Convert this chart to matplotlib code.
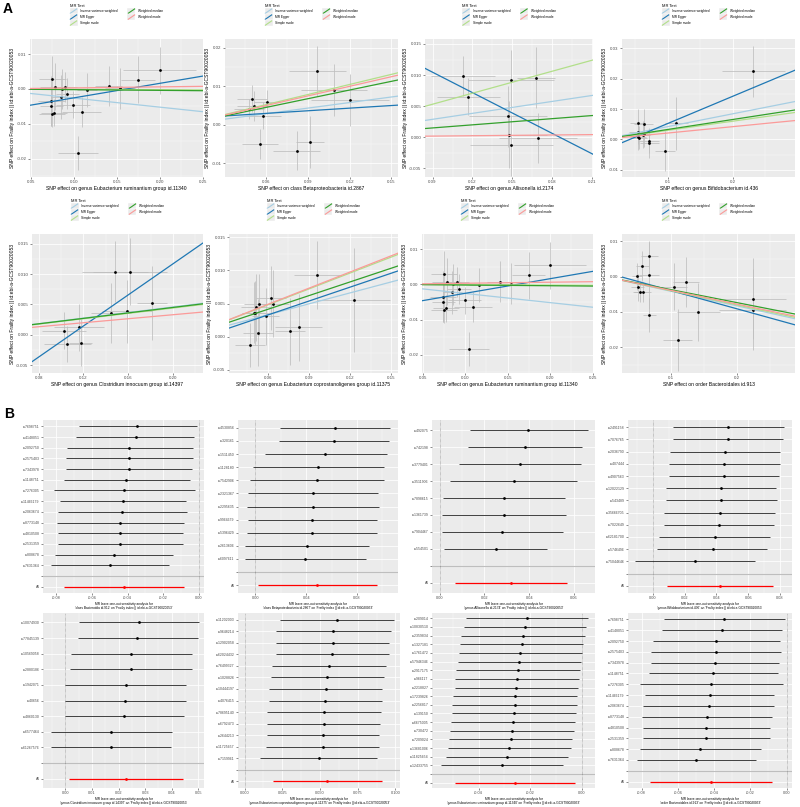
import numpy as np
import matplotlib
matplotlib.use('Agg')
import matplotlib.pyplot as plt
from matplotlib.ticker import MultipleLocator, FuncFormatter
from matplotlib.lines import Line2D
from matplotlib.patches import Rectangle
from matplotlib.legend_handler import HandlerBase

plt.rcParams['font.family'] = ['Liberation Sans', 'DejaVu Sans']
plt.rcParams['axes.unicode_minus'] = False

# ---------------- data ----------------
METHODS = ["Inverse variance weighted", "MR Egger", "Simple mode", "Weighted median", "Weighted mode"]
MCOLORS = ["#a6cee3", "#1f78b4", "#b2df8a", "#33a02c", "#fb9a99"]
YLAB = "SNP effect on Frailty index || id:ebi-a-GCST90020053"

# Scatter: genus Eubacterium ruminantium group id.11340
er_bx = [0.0752, 0.0779, 0.0740, 0.0740, 0.0748, 0.0771, 0.0849, 0.0860, 0.0903, 0.0926, 0.0992, 0.1090, 0.1047, 0.1159, 0.1407, 0.1543, 0.1748, 0.2000]
er_by = [0.0028, 0.0007, -0.0035, -0.0049, -0.0072, -0.0068, -0.0023, 0.0000, 0.0006, -0.0013, -0.0045, -0.0065, -0.0184, -0.0003, 0.0008, 0.0002, 0.0026, 0.0054]
er_sx = [0.0155, 0.0174, 0.0155, 0.0136, 0.0155, 0.0155, 0.0116, 0.0136, 0.0136, 0.0136, 0.0194, 0.0225, 0.0233, 0.0116, 0.0155, 0.0174, 0.0194, 0.0426]
er_sy = [0.0067, 0.0067, 0.0072, 0.0058, 0.0038, 0.0038, 0.0062, 0.0058, 0.0043, 0.0043, 0.0038, 0.0043, 0.0048, 0.0048, 0.0058, 0.0058, 0.0067, 0.0067]
er_int = [0, -0.0067, 0, 0, 0]
er_slope = [-0.026, 0.0415, -0.001, -0.002, 0.003]

# Scatter: class Betaproteobacteria id.2867
bp_bx = [0.0497, 0.0514, 0.0478, 0.0607, 0.0576, 0.0557, 0.0968, 0.0820, 0.0915, 0.1089, 0.1206]
bp_by = [0.0067, 0.0048, 0.0041, 0.0059, 0.0024, -0.0050, 0.0139, -0.0067, -0.0044, 0.0090, 0.0064]
bp_sx = [0.0108, 0.0120, 0.0108, 0.0096, 0.0131, 0.0131, 0.0203, 0.0167, 0.0100, 0.0239, 0.0280]
bp_sy = [0.0035, 0.0039, 0.0026, 0.0030, 0.0035, 0.0039, 0.0065, 0.0050, 0.0068, 0.0068, 0.0068]
bp_int = [0, 0.0016, 0, 0, 0]
bp_slope = [0.048, 0.0226, 0.087, 0.075, 0.083]

# Scatter: genus Allisonella id.2174
al_bx = [0.1130, 0.1168, 0.1488, 0.1680, 0.1468, 0.1473, 0.1493, 0.1693]
al_by = [0.0098, 0.0065, 0.0092, 0.0096, 0.0034, 0.0004, -0.0013, -0.0001]
al_sx = [0.0243, 0.0238, 0.0325, 0.0143, 0.0295, 0.0290, 0.0310, 0.0290]
al_sy = [0.0032, 0.0030, 0.0049, 0.0049, 0.0049, 0.0054, 0.0049, 0.0040]
al_int = [0, 0.0203, 0, 0, 0]
al_slope = [0.032, -0.1094, 0.059, 0.0166, 0.002]

# Scatter: genus Bifidobacterium id.436
bf_bx = [0.0533, 0.0533, 0.0538, 0.0559, 0.0626, 0.0626, 0.0610, 0.0703, 0.0713, 0.0949, 0.1128, 0.2318]
bf_by = [0.0055, 0.0023, 0.0009, 0.0006, 0.0050, 0.0018, 0.0015, -0.0006, -0.0011, -0.0038, 0.0053, 0.0224]
bf_sx = [0.0113, 0.0128, 0.0128, 0.0113, 0.0144, 0.0128, 0.0113, 0.0154, 0.0144, 0.0154, 0.0180, 0.0487]
bf_sy = [0.0044, 0.0039, 0.0044, 0.0039, 0.0050, 0.0044, 0.0044, 0.0039, 0.0050, 0.0066, 0.0088, 0.0083]
bf_int = [0, -0.0037, 0, 0, 0]
bf_slope = [0.0422, 0.0896, 0.030, 0.0328, 0.021]

# Scatter: genus Clostridium innocuum group id.14397
ci_bx = [0.1027, 0.1057, 0.1159, 0.1174, 0.1443, 0.1482, 0.1587, 0.1617, 0.1811]
ci_by = [0.0007, -0.0015, 0.0012, -0.0013, 0.0036, 0.0104, 0.0039, 0.0104, 0.0052]
ci_sx = [0.0194, 0.0209, 0.0224, 0.0105, 0.0179, 0.0299, 0.0224, 0.0329, 0.0135]
ci_sy = [0.0030, 0.0030, 0.0039, 0.0039, 0.0050, 0.0050, 0.0052, 0.0055, 0.0061]
ci_int = [0, -0.0139, 0, 0, 0]
ci_slope = [0.0229, 0.1279, 0.022, 0.0225, 0.0165]

# Scatter: genus Eubacterium coprostanoligenes group id.11375
ec_bx = [0.0471, 0.0498, 0.0508, 0.0515, 0.0532, 0.0527, 0.0583, 0.0624, 0.0634, 0.0763, 0.0824, 0.0958, 0.1228]
ec_by = [-0.0013, 0.0036, 0.0036, 0.0044, 0.0049, 0.0006, 0.0031, 0.0058, 0.0050, 0.0008, 0.0014, 0.0093, 0.0055]
ec_sx = [0.0109, 0.0085, 0.0097, 0.0109, 0.0109, 0.0109, 0.0097, 0.0109, 0.0122, 0.0109, 0.0170, 0.0170, 0.0267]
ec_sy = [0.0033, 0.0046, 0.0048, 0.0051, 0.0046, 0.0051, 0.0043, 0.0048, 0.0051, 0.0051, 0.0051, 0.0051, 0.0079]
ec_int = [0, -0.00092, 0, 0, 0]
ec_slope = [0.055, 0.0699, 0.080, 0.0688, 0.0813]

# Scatter: order Bacteroidales id.913
bd_bx = [0.0485, 0.0495, 0.0525, 0.0566, 0.0571, 0.0672, 0.0672, 0.0672, 0.1040, 0.1101, 0.1232, 0.1419, 0.2242, 0.2242]
bd_by = [0.0001, -0.0030, -0.0042, 0.0031, -0.0044, 0.0059, 0.0004, -0.0108, -0.0028, -0.0179, -0.0015, -0.0100, -0.0062, -0.0094]
bd_sx = [0.0076, 0.0101, 0.0101, 0.0101, 0.0126, 0.0126, 0.0152, 0.0101, 0.0202, 0.0227, 0.0202, 0.0328, 0.0505, 0.0505]
bd_sy = [0.0038, 0.0038, 0.0029, 0.0043, 0.0029, 0.0038, 0.0096, 0.0048, 0.0067, 0.0087, 0.0072, 0.0082, 0.0115, 0.0115]
bd_int = [0, 0.00123, 0, 0, 0]
bd_slope = [-0.0413, -0.0516, -0.040, -0.0367, -0.0388]

# Leave-one-out: class Bacteroidia / order Bacteroidales
f1_snp = ["rs7698751", "rs4148051", "rs2092750", "rs2575403", "rs7343978", "rs1148751", "rs7276305",
          "rs11466179", "rs2063674", "rs8773148", "rs4810508", "rs2531359", "rs808678", "rs7631364"]
f1_b = [-0.0345, -0.0355, -0.0389, -0.0390, -0.0394, -0.0406, -0.0417, -0.0425, -0.0430, -0.0440, -0.0443, -0.0443, -0.0475, -0.0498]
f1_lo = [-0.0675, -0.0687, -0.0738, -0.0747, -0.0747, -0.0758, -0.0811, -0.0780, -0.0790, -0.0796, -0.0790, -0.0790, -0.0807, -0.0828]
f1_hi = [-0.0010, -0.0025, -0.0034, -0.0030, -0.0040, -0.0049, -0.0020, -0.0070, -0.0068, -0.0081, -0.0090, -0.0090, -0.0143, -0.0166]
f1_all = [-0.0417, -0.0755, -0.0081]

# Leave-one-out: class Betaproteobacteria
f2_snp = ["rs4530856", "rs320161", "rs1511450", "rs1128180", "rs7542906", "rs2321367", "rs2295635",
          "rs9964679", "rs5396429", "rs2613606", "rs6097611"]
f2_b = [0.0625, 0.0617, 0.0552, 0.0495, 0.0483, 0.0454, 0.0452, 0.0449, 0.0444, 0.0405, 0.0392]
f2_lo = [0.0194, 0.0186, 0.0072, -0.0020, -0.0040, -0.0060, -0.0065, -0.0060, -0.0070, -0.0083, -0.0085]
f2_hi = [0.1063, 0.1050, 0.1037, 0.1012, 0.1012, 0.0968, 0.0973, 0.0960, 0.0955, 0.0895, 0.0872]
f2_all = [0.0488, 0.0018, 0.0960]

# Leave-one-out: genus Allisonella
f3_snp = ["rs492075", "rs742198", "rs3779401", "rs3511906", "rs7898615", "rs1361739", "rs7904467", "rs554501"]
f3_b = [0.0396, 0.0379, 0.0359, 0.0330, 0.0287, 0.0285, 0.0279, 0.0250]
f3_lo = [0.0134, 0.0125, 0.0086, 0.0048, 0.0013, 0.0010, 0.0010, 0.0018]
f3_hi = [0.0664, 0.0637, 0.0631, 0.0612, 0.0561, 0.0563, 0.0552, 0.0478]
f3_all = [0.0319, 0.0070, 0.0570]

# Leave-one-out: genus Bifidobacterium
f4_snp = ["rs2491158", "rs7076765", "rs2036790", "rs407444", "rs4907563", "rs12022129", "rs543489",
          "rs35666705", "rs7022649", "rs62181700", "rs5746496", "rs75044646"]
f4_b = [0.0473, 0.0471, 0.0457, 0.0450, 0.0446, 0.0431, 0.0431, 0.0421, 0.0417, 0.0390, 0.0377, 0.0268]
f4_lo = [0.0128, 0.0128, 0.0111, 0.0103, 0.0101, 0.0086, 0.0084, 0.0073, 0.0069, 0.0040, 0.0027, -0.0109]
f4_hi = [0.0823, 0.0819, 0.0802, 0.0798, 0.0794, 0.0777, 0.0779, 0.0771, 0.0765, 0.0739, 0.0718, 0.0645]
f4_all = [0.0421, 0.0090, 0.0756]

# Leave-one-out: genus Clostridium innocuum group
f5_snp = ["rs10074930", "rs77845139", "rs10569058", "rs2880186", "rs1942071", "rs40656", "rs4860130",
          "rs6577464", "rs61267576"]
f5_b = [0.0275, 0.0271, 0.0248, 0.0246, 0.0228, 0.0225, 0.0221, 0.0173, 0.0171]
f5_lo = [0.0050, 0.0046, 0.0023, 0.0016, 0.0000, -0.0003, -0.0003, -0.0055, -0.0055]
f5_hi = [0.0503, 0.0498, 0.0475, 0.0475, 0.0453, 0.0453, 0.0446, 0.0400, 0.0396]
f5_all = [0.0229, 0.0015, 0.0441]

# Leave-one-out: genus Eubacterium coprostanoligenes group
f6_snp = ["rs11202003", "rs9648214", "rs12902058", "rs62024432", "rs76499327", "rs1028826", "rs10444197",
          "rs4076415", "rs78695140", "rs6792473", "rs2644213", "rs11725657", "rs7159961"]
f6_b = [0.0610, 0.0588, 0.0583, 0.0579, 0.0557, 0.0548, 0.0537, 0.0535, 0.0528, 0.0524, 0.0521, 0.0517, 0.0490]
f6_lo = [0.0237, 0.0206, 0.0206, 0.0206, 0.0182, 0.0177, 0.0162, 0.0160, 0.0151, 0.0146, 0.0146, 0.0144, 0.0104]
f6_hi = [0.0987, 0.0970, 0.0960, 0.0954, 0.0936, 0.0925, 0.0911, 0.0911, 0.0907, 0.0900, 0.0894, 0.0894, 0.0876]
f6_all = [0.0548, 0.0189, 0.0909]

# Leave-one-out: genus Eubacterium ruminantium group
f7_snp = ["rs209014", "rs10830510", "rs2359834", "rs1327181", "rs1761472", "rs57946346", "rs2917175",
          "rs966117", "rs2218827", "rs17239826", "rs2256817", "rs139150", "rs6675005", "rs730472",
          "rs7209024", "rs13681006", "rs11825654", "rs12433755"]
f7_b = [-0.0212, -0.0221, -0.0228, -0.0233, -0.0238, -0.0243, -0.0247, -0.0251, -0.0254, -0.0258,
        -0.0261, -0.0264, -0.0268, -0.0272, -0.0276, -0.0281, -0.0290, -0.0310]
f7_lo = [-0.0448, -0.0458, -0.0466, -0.0470, -0.0476, -0.0481, -0.0486, -0.0490, -0.0493, -0.0497,
         -0.0501, -0.0503, -0.0507, -0.0511, -0.0514, -0.0520, -0.0527, -0.0545]
f7_hi = [0.0024, 0.0015, 0.0010, 0.0004, 0.0000, -0.0005, -0.0008, -0.0012, -0.0015, -0.0019,
         -0.0021, -0.0025, -0.0029, -0.0033, -0.0038, -0.0042, -0.0053, -0.0075]
f7_all = [-0.0258, -0.0490, -0.0026]

LOO = "MR leave-one-out sensitivity analysis for\n'{}' on 'Frailty index || id:ebi-a-GCST90020053'"

# ---------------- drawing ----------------
W, H = 800, 807
fig = plt.figure(figsize=(W / 100, H / 100), dpi=100)
fig.patch.set_facecolor('white')


def add_ax(l, t, r, b):
    return fig.add_axes([l / W, 1 - b / H, (r - l) / W, (b - t) / H])


def fmt(dec):
    return FuncFormatter(lambda v, p: f"{(0.0 if abs(v) < 1e-10 else v):.{dec}f}")


def gg(ax, tick_fs):
    ax.set_facecolor('#EBEBEB')
    for s in ax.spines.values():
        s.set_visible(False)
    ax.set_axisbelow(True)
    ax.tick_params(which='major', length=1.5, width=0.4, color='#333333',
                   labelsize=tick_fs, labelcolor='#4D4D4D', pad=1)
    ax.tick_params(which='minor', length=0)


class DiagKey(HandlerBase):
    def create_artists(self, legend, orig_handle, xdescent, ydescent, width, height, fontsize, trans):
        x0, y0 = -xdescent, -ydescent
        bg = Rectangle((x0, y0), width, height, facecolor='#EBEBEB', edgecolor='white', lw=0.3, transform=trans)
        ln = Line2D([x0 + 0.6, x0 + width - 0.6], [y0 + 0.6, y0 + height - 0.6],
                    color=orig_handle.get_color(), lw=0.8, transform=trans)
        return [bg, ln]


def scatter_panel(rect, leg_top, bx, by, sx, sy, icpt, slope, xlim, ylim, xstep, xdec, ystep, ydec, xlabel):
    ax = add_ax(*rect)
    gg(ax, 3.2)
    ax.set_xlim(*xlim)
    ax.set_ylim(*ylim)
    ax.xaxis.set_major_locator(MultipleLocator(xstep))
    ax.xaxis.set_minor_locator(MultipleLocator(xstep / 2))
    ax.yaxis.set_major_locator(MultipleLocator(ystep))
    ax.yaxis.set_minor_locator(MultipleLocator(ystep / 2))
    ax.xaxis.set_major_formatter(fmt(xdec))
    ax.yaxis.set_major_formatter(fmt(ydec))
    ax.grid(which='major', color='white', lw=0.55)
    ax.grid(which='minor', color='white', lw=0.25)
    ax.errorbar(bx, by, yerr=sy, fmt='none', ecolor='#BEBEBE', elinewidth=0.55, zorder=2)
    ax.errorbar(bx, by, xerr=sx, fmt='none', ecolor='#BEBEBE', elinewidth=0.55, zorder=2)
    ax.scatter(bx, by, s=4, color='black', lw=0, zorder=3)
    handles = []
    for a, s, c in zip(icpt, slope, MCOLORS):
        ax.axline((0, a), slope=s, color=c, lw=0.9, zorder=4)
        handles.append(Line2D([], [], color=c))
    ax.set_xlabel(xlabel, fontsize=3.6, labelpad=1)
    ax.set_ylabel(YLAB, fontsize=3.6, labelpad=1)
    cx = (rect[0] + rect[2]) / 2 / W
    ax.legend(handles, METHODS, title='MR Test', ncol=2, loc='upper center',
              bbox_to_anchor=(cx, 1 - leg_top / H), bbox_transform=fig.transFigure,
              fontsize=2.3, title_fontsize=2.9, handlelength=2.5, handleheight=2.5,
              handletextpad=0.9, columnspacing=3.0, labelspacing=0.0, borderpad=0,
              frameon=False, alignment='left', handler_map={Line2D: DiagKey()})
    return ax


def forest_panel(rect, snps, b, lo, hi, allv, xlim, step, dec, title):
    ax = add_ax(*rect)
    gg(ax, 2.8)
    n = len(snps)
    ys = np.arange(n + 2, 2, -1)
    ax.set_xlim(*xlim)
    ax.set_ylim(0.4, n + 2.6)
    ax.xaxis.set_major_locator(MultipleLocator(step))
    ax.xaxis.set_minor_locator(MultipleLocator(step / 2))
    ax.xaxis.set_major_formatter(fmt(dec))
    ax.set_yticks(list(ys) + [2, 1])
    ax.set_yticklabels(list(snps) + ['', 'All'])
    ax.tick_params(axis='y', labelsize=2.5)
    ax.grid(which='major', color='white', lw=0.55)
    ax.grid(which='minor', axis='x', color='white', lw=0.25)
    ax.axhline(2, color='#BEBEBE', lw=0.8, zorder=1.5)
    ax.axvline(0, color='#555555', ls=(0, (1, 1.2)), lw=0.4, zorder=1.5)
    ax.hlines(ys, lo, hi, color='#222222', lw=0.6, zorder=2)
    ax.scatter(b, ys, s=4, color='black', lw=0, zorder=3)
    ax.hlines([1], [allv[1]], [allv[2]], color='red', lw=0.9, zorder=2)
    ax.scatter([allv[0]], [1], s=4, color='red', lw=0, zorder=3)
    ax.set_xlabel(title, fontsize=2.3, labelpad=1, linespacing=1.1)
    return ax


# Row 1 scatter
scatter_panel((30, 39, 203, 177), 2.5, er_bx, er_by, er_sx, er_sy, er_int, er_slope,
              (0.049, 0.2505), (-0.0252, 0.0143), 0.05, 2, 0.01, 2,
              "SNP effect on genus Eubacterium ruminantium group id.11340")
scatter_panel((225, 39, 398, 177), 2.5, bp_bx, bp_by, bp_sx, bp_sy, bp_int, bp_slope,
              (0.0306, 0.1547), (-0.0135, 0.0222), 0.03, 2, 0.01, 2,
              "SNP effect on class Betaproteobacteria id.2867")
scatter_panel((425, 39, 593, 177), 2.5, al_bx, al_by, al_sx, al_sy, al_int, al_slope,
              (0.0843, 0.2106), (-0.0064, 0.0158), 0.03, 2, 0.005, 3,
              "SNP effect on genus Allisonella id.2174")
scatter_panel((622, 39, 795, 177), 2.5, bf_bx, bf_by, bf_sx, bf_sy, bf_int, bf_slope,
              (0.0292, 0.2959), (-0.0124, 0.0331), 0.1, 1, 0.01, 2,
              "SNP effect on genus Bifidobacterium id.436")
# Row 2 scatter
scatter_panel((32, 234, 203, 373), 197.5, ci_bx, ci_by, ci_sx, ci_sy, ci_int, ci_slope,
              (0.074, 0.2269), (-0.0063, 0.0166), 0.04, 2, 0.005, 3,
              "SNP effect on genus Clostridium innocuum group id.14397")
scatter_panel((229, 234, 398, 373), 197.5, ec_bx, ec_by, ec_sx, ec_sy, ec_int, ec_slope,
              (0.0315, 0.1551), (-0.0055, 0.0155), 0.03, 2, 0.005, 3,
              "SNP effect on genus Eubacterium coprostanoligenes group id.11375")
scatter_panel((422, 234, 593, 373), 197.5, er_bx, er_by, er_sx, er_sy, er_int, er_slope,
              (0.049, 0.2505), (-0.0252, 0.0143), 0.05, 2, 0.01, 2,
              "SNP effect on genus Eubacterium ruminantium group id.11340")
scatter_panel((622, 234, 795, 373), 197.5, bd_bx, bd_by, bd_sx, bd_sy, bd_int, bd_slope,
              (0.0258, 0.2884), (-0.0273, 0.0121), 0.1, 1, 0.01, 2,
              "SNP effect on order Bacteroidales id.913")

# Row 1 forest
forest_panel((43, 420, 204, 593), f1_snp, f1_b, f1_lo, f1_hi, f1_all, (-0.0875, 0.003), 0.02, 2,
             LOO.format("class Bacteroidia id.912"))
forest_panel((238, 420, 398, 593), f2_snp, f2_b, f2_lo, f2_hi, f2_all, (-0.0137, 0.1123), 0.04, 2,
             LOO.format("class Betaproteobacteria id.2867"))
forest_panel((432, 420, 595, 593), f3_snp, f3_b, f3_lo, f3_hi, f3_all, (-0.0034, 0.0693), 0.02, 2,
             LOO.format("genus Allisonella id.2174"))
forest_panel((628, 420, 792, 593), f4_snp, f4_b, f4_lo, f4_hi, f4_all, (-0.0155, 0.0875), 0.02, 2,
             LOO.format("genus Bifidobacterium id.436"))
# Row 2 forest
forest_panel((43, 613, 204, 788), f5_snp, f5_b, f5_lo, f5_hi, f5_all, (-0.0084, 0.0521), 0.01, 2,
             LOO.format("genus Clostridium innocuum group id.14397"))
forest_panel((238, 613, 400, 788), f6_snp, f6_b, f6_lo, f6_hi, f6_all, (-0.0044, 0.1030), 0.025, 3,
             LOO.format("genus Eubacterium coprostanoligenes group id.11375"))
forest_panel((432, 613, 595, 788), f7_snp, f7_b, f7_lo, f7_hi, f7_all, (-0.058, 0.005), 0.02, 2,
             LOO.format("genus Eubacterium ruminantium group id.11340"))
forest_panel((628, 613, 792, 788), f1_snp, f1_b, f1_lo, f1_hi, f1_all, (-0.0875, 0.003), 0.02, 2,
             LOO.format("order Bacteroidales id.913"))

fig.text(3 / W, 1 - 2 / H, 'A', fontsize=10, fontweight='bold', va='top', ha='left')
fig.text(4 / W, 1 - 407 / H, 'B', fontsize=10, fontweight='bold', va='top', ha='left')

fig.savefig('out.png', dpi=100, facecolor='white')
